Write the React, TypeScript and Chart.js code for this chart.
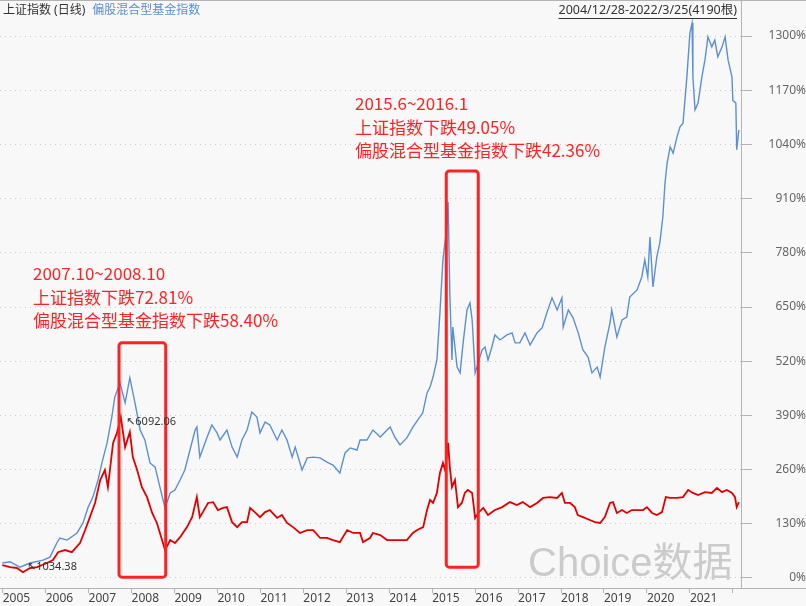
import { useEffect, useRef } from 'react';
import { Chart, registerables } from 'chart.js';

Chart.register(...registerables);

// ---- data (decimal year, percent change) ----
const fundDates = [
  2004.99, 2005.17, 2005.40, 2005.64, 2005.94, 2006.10, 2006.26, 2006.33, 2006.50, 2006.73,
  2006.87, 2006.99, 2007.10, 2007.22, 2007.31, 2007.43, 2007.54, 2007.61, 2007.73, 2007.85,
  2007.96, 2008.08, 2008.20, 2008.31, 2008.43, 2008.55, 2008.66, 2008.78, 2008.90, 2009.01,
  2009.13, 2009.24, 2009.36, 2009.48, 2009.52, 2009.59, 2009.76, 2009.87, 2009.99, 2010.06,
  2010.22, 2010.34, 2010.46, 2010.57, 2010.69, 2010.80, 2010.92, 2010.99, 2011.11, 2011.22,
  2011.39, 2011.50, 2011.62, 2011.74, 2011.81, 2011.97, 2012.09, 2012.23, 2012.39, 2012.55,
  2012.69, 2012.85, 2012.97, 2013.09, 2013.25, 2013.32, 2013.48, 2013.62, 2013.79, 2014.02,
  2014.13, 2014.25, 2014.41, 2014.55, 2014.71, 2014.78, 2014.88, 2014.95, 2015.02, 2015.11,
  2015.18, 2015.25, 2015.34, 2015.37, 2015.41, 2015.46, 2015.48, 2015.58, 2015.65, 2015.72,
  2015.81, 2015.88, 2015.93, 2016.00, 2016.07, 2016.16, 2016.23, 2016.30, 2016.39, 2016.46,
  2016.58, 2016.74, 2016.86, 2016.93, 2017.04, 2017.16, 2017.28, 2017.44, 2017.56, 2017.67,
  2017.79, 2017.91, 2018.02, 2018.05, 2018.17, 2018.28, 2018.40, 2018.51, 2018.63, 2018.72,
  2018.84, 2018.91, 2019.02, 2019.14, 2019.18, 2019.30, 2019.42, 2019.53, 2019.60, 2019.77,
  2019.88, 2019.95, 2020.02, 2020.07, 2020.14, 2020.23, 2020.30, 2020.37, 2020.42, 2020.47,
  2020.54, 2020.61, 2020.70, 2020.77, 2020.84, 2020.93, 2021.00, 2021.05, 2021.07, 2021.12,
  2021.19, 2021.28, 2021.35, 2021.42, 2021.51, 2021.58, 2021.65, 2021.75, 2021.82, 2021.89,
  2021.98, 2022.00, 2022.07, 2022.09, 2022.14,
];
const fundValues = [
  36, 39, 26, 36, 43, 50, 84, 96, 91, 108,
  132, 170, 194, 235, 276, 324, 386, 434, 468, 420,
  480, 420, 355, 331, 276, 266, 218, 168, 204, 211,
  235, 259, 307, 355, 362, 290, 338, 367, 348, 331,
  355, 314, 290, 331, 355, 398, 386, 348, 374, 367,
  331, 355, 331, 290, 314, 259, 288, 290, 288, 278,
  271, 252, 300, 312, 307, 331, 331, 355, 338, 362,
  338, 319, 336, 362, 386, 396, 444, 458, 482, 523,
  636, 763, 842, 902, 684, 523, 602, 506, 492, 564,
  643, 660, 619, 492, 516, 547, 554, 523, 554, 583,
  571, 583, 588, 564, 564, 588, 559, 588, 600, 636,
  672, 643, 672, 602, 643, 624, 588, 547, 530, 492,
  506, 482, 554, 612, 643, 578, 619, 626, 674, 691,
  722, 763, 722, 818, 698, 770, 804, 866, 947, 995,
  1034, 1019, 1058, 1082, 1091, 1202, 1307, 1331, 1202, 1123,
  1139, 1202, 1242, 1298, 1274, 1290, 1250, 1274, 1298, 1242,
  1202, 1146, 1139, 1027, 1075,
];
const shDates = [
  2004.99, 2005.17, 2005.33, 2005.47, 2005.64, 2005.80, 2006.03, 2006.17, 2006.29, 2006.45,
  2006.61, 2006.80, 2006.92, 2007.03, 2007.15, 2007.27, 2007.38, 2007.45, 2007.57, 2007.66,
  2007.75, 2007.85, 2007.96, 2008.03, 2008.13, 2008.24, 2008.36, 2008.48, 2008.59, 2008.71,
  2008.78, 2008.90, 2009.01, 2009.13, 2009.29, 2009.41, 2009.52, 2009.59, 2009.66, 2009.78,
  2009.90, 2010.01, 2010.13, 2010.22, 2010.34, 2010.46, 2010.57, 2010.69, 2010.76, 2010.87,
  2010.99, 2011.11, 2011.22, 2011.39, 2011.50, 2011.62, 2011.76, 2011.92, 2012.09, 2012.23,
  2012.39, 2012.55, 2012.69, 2012.85, 2013.02, 2013.16, 2013.32, 2013.39, 2013.55, 2013.62,
  2013.79, 2013.95, 2014.09, 2014.25, 2014.41, 2014.55, 2014.65, 2014.79, 2014.88, 2014.95,
  2015.02, 2015.11, 2015.18, 2015.25, 2015.30, 2015.37, 2015.41, 2015.46, 2015.53, 2015.60,
  2015.69, 2015.76, 2015.83, 2015.93, 2016.00, 2016.07, 2016.19, 2016.30, 2016.46, 2016.63,
  2016.81, 2016.97, 2017.11, 2017.28, 2017.44, 2017.58, 2017.74, 2017.91, 2018.02, 2018.09,
  2018.21, 2018.32, 2018.39, 2018.51, 2018.67, 2018.79, 2018.91, 2019.02, 2019.14, 2019.21,
  2019.30, 2019.42, 2019.53, 2019.65, 2019.77, 2019.91, 2020.00, 2020.12, 2020.23, 2020.35,
  2020.44, 2020.54, 2020.70, 2020.84, 2020.96, 2021.07, 2021.19, 2021.35, 2021.51, 2021.63,
  2021.75, 2021.86, 2021.98, 2022.05, 2022.09, 2022.14,
];
const shValues = [
  31, 26, 24, 14, 24, 26, 36, 43, 62, 67,
  62, 84, 115, 146, 180, 235, 259, 218, 324, 348,
  386, 314, 350, 290, 259, 218, 194, 156, 132, 91,
  67, 91, 84, 98, 122, 146, 194, 146, 158, 180,
  182, 163, 168, 170, 134, 122, 134, 134, 168, 158,
  146, 158, 163, 144, 151, 132, 122, 108, 115, 115,
  96, 96, 91, 86, 115, 108, 108, 86, 96, 108,
  103, 91, 91, 91, 91, 108, 115, 122, 163, 187,
  180, 204, 252, 276, 259, 324, 266, 218, 235, 170,
  180, 204, 211, 204, 144, 156, 168, 151, 163, 170,
  182, 175, 182, 170, 180, 192, 194, 192, 204, 180,
  180, 170, 151, 146, 139, 134, 132, 146, 180, 182,
  156, 163, 156, 163, 163, 163, 170, 156, 151, 158,
  194, 192, 192, 194, 211, 204, 199, 206, 204, 216,
  206, 211, 204, 194, 170, 182,
];

const yearTicks = [2005, 2006, 2007, 2008, 2009, 2010, 2011, 2012, 2013, 2014, 2015, 2016, 2017, 2018, 2019, 2020, 2021, 2022];
const yearLabels = ['2005', '2006', '2007', '2008', '2009', '2010', '2011', '2012', '2013', '2014', '2015', '2016', '2017', '2018', '2019', '2020', '2021', ''];
const pctTicks = [0, 130, 260, 390, 520, 650, 780, 910, 1040, 1170, 1300];

const seriesNames = ['上证指数', '偏股混合型基金指数'];
const periodLabel = ' (日线)';
const rangeLabel = '2004/12/28-2022/3/25(4190根)';
const watermark = 'Choice数据';

// highlighted periods: [from year, to year, top %, bottom %]
const boxFrom = [2007.708, 2015.328];
const boxTo = [2008.795, 2016.073];
const boxTop = [564, 976];
const boxBottom = [2, 26];
const boxNotes = [
  ['2007.10~2008.10', '上证指数下跌72.81%', '偏股混合型基金指数下跌58.40%'],
  ['2015.6~2016.1', '上证指数下跌49.05%', '偏股混合型基金指数下跌42.36%'],
];
// extreme value labels on 上证指数
const markYears = [2007.873, 2005.566];
const markPcts = [374, 26];
const markTexts = ['↖6092.06', '↖1034.38'];

const FONT = '"Noto Sans", "Noto Sans CJK SC", sans-serif';
const NOTE_FONT = '"Noto Sans CJK SC", sans-serif';
const RED = '#e00000';
const BLUE = '#5b8fd6';
const NOTE_RED = '#ff2222';
const AXIS = '#b4b4b4';

const overlay = {
  id: 'overlay',
  beforeDatasetsDraw(chart: any) {
    const { ctx } = chart;
    ctx.save();
    ctx.font = '40px "Liberation Sans", "Noto Sans CJK SC", sans-serif';
    ctx.fillStyle = '#cbcbcb';
    ctx.textBaseline = 'alphabetic';
    ctx.textAlign = 'left';
    ctx.fillText(watermark, 528, 576);
    ctx.restore();
  },
  afterDraw(chart: any) {
    const { ctx, width } = chart;
    const x = chart.scales.x;
    const y = chart.scales.y;
    ctx.save();
    ctx.strokeStyle = AXIS;
    ctx.lineWidth = 1;
    ctx.beginPath();
    ctx.moveTo(0, 0.5);
    ctx.lineTo(width, 0.5);
    ctx.stroke();
    const axisY = Math.round(x.top) + 0.5;
    ctx.beginPath();
    ctx.moveTo(x.right, axisY);
    ctx.lineTo(width, axisY);
    ctx.stroke();

    // header
    ctx.textBaseline = 'middle';
    ctx.textAlign = 'left';
    ctx.font = '12px ' + FONT;
    ctx.fillStyle = '#333333';
    const first = seriesNames[0] + periodLabel;
    ctx.fillText(first, 3, 11);
    const w1 = ctx.measureText(first).width;
    ctx.fillStyle = BLUE;
    ctx.fillText(seriesNames[1], 3 + w1 + 7, 11);

    ctx.font = '12.5px ' + FONT;
    ctx.fillStyle = '#333333';
    ctx.textAlign = 'right';
    ctx.fillText(rangeLabel, 737, 10);
    const wr = ctx.measureText(rangeLabel).width;
    ctx.strokeStyle = '#333333';
    ctx.beginPath();
    ctx.moveTo(737 - wr, 18.5);
    ctx.lineTo(737, 18.5);
    ctx.stroke();

    // boxes
    ctx.strokeStyle = NOTE_RED;
    ctx.lineWidth = 3;
    for (let i = 0; i < boxFrom.length; i++) {
      const l = x.getPixelForValue(boxFrom[i]);
      const r = x.getPixelForValue(boxTo[i]);
      const t = y.getPixelForValue(boxTop[i]);
      const b = y.getPixelForValue(boxBottom[i]);
      ctx.beginPath();
      ctx.roundRect(l, t, r - l, b - t, 3);
      ctx.stroke();
    }

    // notes
    const noteLeft = [33, 355];
    const noteTop = [274, 104];
    ctx.font = '17px ' + NOTE_FONT;
    ctx.fillStyle = NOTE_RED;
    ctx.textAlign = 'left';
    ctx.textBaseline = 'middle';
    boxNotes.forEach((lines, i) => {
      lines.forEach((line, j) => {
        ctx.fillText(line, noteLeft[i], noteTop[i] + j * 23.5);
      });
    });

    // extreme labels
    ctx.font = '11px "Noto Sans", "DejaVu Sans", sans-serif';
    ctx.fillStyle = '#333333';
    for (let i = 0; i < markTexts.length; i++) {
      ctx.fillText(markTexts[i], x.getPixelForValue(markYears[i]), y.getPixelForValue(markPcts[i]));
    }
    ctx.restore();
  },
};

export default function App() {
  const ref = useRef<HTMLCanvasElement | null>(null);
  useEffect(() => {
    if (!ref.current) return;
    const chart = new Chart(ref.current, {
      type: 'line',
      data: {
        datasets: [
          {
            label: seriesNames[0],
            data: shDates.map((d, i) => ({ x: d, y: shValues[i] })),
            borderColor: RED,
            borderWidth: 1.8,
            pointRadius: 0,
            tension: 0,
          },
          {
            label: seriesNames[1],
            data: fundDates.map((d, i) => ({ x: d, y: fundValues[i] })),
            borderColor: BLUE,
            borderWidth: 1.4,
            pointRadius: 0,
            tension: 0,
          },
        ],
      },
      options: {
        responsive: false,
        maintainAspectRatio: false,
        animation: false,
        layout: { padding: { top: 1, left: 0, right: 0, bottom: 0 } },
        plugins: { legend: { display: false }, tooltip: { enabled: false } },
        scales: {
          x: {
            type: 'linear',
            position: 'bottom',
            min: 2004.937,
            max: 2022.19,
            afterBuildTicks: (s: any) => {
              s.ticks = yearTicks.map((v) => ({ value: v }));
            },
            afterFit: (s: any) => {
              s.height = 18;
              s.paddingLeft = 0;
              s.paddingRight = 0;
            },
            grid: { drawOnChartArea: false, drawTicks: true, tickLength: 5, color: AXIS, tickColor: AXIS },
            border: { color: AXIS, width: 1 },
            ticks: {
              align: 'start',
              padding: 0,
              maxRotation: 0,
              autoSkip: false,
              color: '#444444',
              font: { family: FONT, size: 12, lineHeight: 1 },
              callback: (_v: any, i: number) => yearLabels[i],
            },
          },
          y: {
            type: 'linear',
            position: 'right',
            min: -24,
            max: 1384,
            afterBuildTicks: (s: any) => {
              s.ticks = pctTicks.map((v) => ({ value: v }));
            },
            afterFit: (s: any) => {
              s.width = 65;
              s.paddingTop = 0;
              s.paddingBottom = 0;
            },
            grid: { color: '#cccccc', tickColor: AXIS, tickLength: 11, drawTicks: true, tickBorderDash: [] },
            border: { color: AXIS, dash: [1, 4] },
            ticks: {
              crossAlign: 'far',
              padding: 12,
              autoSkip: false,
              color: '#666666',
              font: { family: FONT, size: 12 },
              callback: (v: any) => v + '%',
            },
          },
        },
      } as any,
      plugins: [overlay],
    });
    return () => chart.destroy();
  }, []);
  return (
    <div style={{ position: 'fixed', left: 0, top: 0, width: 806, height: 606, background: '#f8f8f8' }}>
      <canvas ref={ref} width={806} height={606} style={{ display: 'block' }} />
    </div>
  );
}
